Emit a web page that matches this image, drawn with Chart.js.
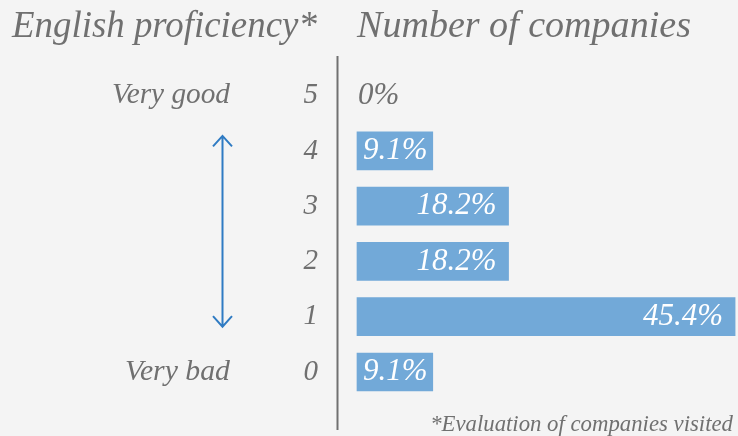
<!DOCTYPE html>
<html>
<head>
<meta charset="utf-8">
<script src="https://cdn.jsdelivr.net/npm/chart.js@4/dist/chart.umd.min.js"></script>
<style>
html,body{margin:0;padding:0;background:#f4f4f4;}
#wrap{position:relative;width:738px;height:436px;}
</style>
</head>
<body>
<div id="wrap"><canvas id="c" width="738" height="436"></canvas></div>
<script>
// ---- data ----
const levels = ['5', '4', '3', '2', '1', '0'];
const shares = [0, 9.1, 18.2, 18.2, 45.4, 9.1];
const shareLabels = shares.map(v => v + '%');
const leftTitle = 'English proficiency*';
const rightTitle = 'Number of companies';
const topLevelLabel = 'Very good';
const bottomLevelLabel = 'Very bad';
const footnote = '*Evaluation of companies visited';

// ---- style ----
const FAM = '"Liberation Serif", "Times New Roman", serif';
const GRAY = '#707070';
const BAR = '#72a9d8';
const ARROW = '#2f7bc3';
const BG = '#f4f4f4';

function fitSize(ctx, text, target, base) {
  ctx.font = `italic ${base}px ${FAM}`;
  const w = ctx.measureText(text).width;
  return base * target / w;
}

const decor = {
  id: 'decor',
  beforeDraw(chart) {
    const ctx = chart.ctx;
    ctx.save();
    ctx.fillStyle = BG;
    ctx.fillRect(0, 0, chart.width, chart.height);
    ctx.restore();
  },
  afterDatasetsDraw(chart) {
    const ctx = chart.ctx;
    const meta = chart.getDatasetMeta(0);
    ctx.save();
    const size = fitSize(ctx, '45.4%', 80, 27);
    ctx.font = `italic ${size}px ${FAM}`;
    ctx.textBaseline = 'middle';
    meta.data.forEach((bar, i) => {
      const txt = shareLabels[i];
      const w = ctx.measureText(txt).width;
      if (shares[i] === 0) {
        ctx.fillStyle = GRAY;
        ctx.textAlign = 'left';
        ctx.fillText(txt, bar.base + 1, bar.y);
      } else {
        ctx.fillStyle = '#ffffff';
        ctx.textAlign = 'right';
        const x = Math.max(bar.base + 6 + w, bar.x - 12);
        ctx.fillText(txt, x, bar.y);
      }
    });
    ctx.restore();
  },
  afterDraw(chart) {
    const ctx = chart.ctx;
    const y = chart.scales.y;
    ctx.save();
    // axis line
    ctx.strokeStyle = GRAY;
    ctx.lineWidth = 2;
    ctx.beginPath();
    ctx.moveTo(chart.chartArea.left + 0.5, 56);
    ctx.lineTo(chart.chartArea.left + 0.5, 430);
    ctx.stroke();

    // double arrow
    const ax = 222.5;
    const aTop = y.getPixelForValue(1) - 15;
    const aBot = y.getPixelForValue(4) + 10;
    ctx.strokeStyle = ARROW;
    ctx.lineWidth = 2;
    ctx.beginPath();
    ctx.moveTo(ax, aTop);
    ctx.lineTo(ax, aBot);
    ctx.moveTo(ax - 9.5, aTop + 10.5);
    ctx.lineTo(ax, aTop);
    ctx.lineTo(ax + 9.5, aTop + 10.5);
    ctx.moveTo(ax - 9.5, aBot - 10.5);
    ctx.lineTo(ax, aBot);
    ctx.lineTo(ax + 9.5, aBot - 10.5);
    ctx.stroke();

    // texts
    ctx.fillStyle = GRAY;
    ctx.textBaseline = 'alphabetic';
    let s = fitSize(ctx, leftTitle, 305, 32);
    ctx.font = `italic ${s}px ${FAM}`;
    ctx.textAlign = 'left';
    ctx.fillText(leftTitle, 12, 37);

    s = fitSize(ctx, rightTitle, 334, 32);
    ctx.font = `italic ${s}px ${FAM}`;
    ctx.fillText(rightTitle, 357, 37);

    ctx.textBaseline = 'middle';
    ctx.textAlign = 'right';
    s = fitSize(ctx, topLevelLabel, 118, 27);
    ctx.font = `italic ${s}px ${FAM}`;
    ctx.fillText(topLevelLabel, 230, y.getPixelForValue(0));
    s = fitSize(ctx, bottomLevelLabel, 105, 27);
    ctx.font = `italic ${s}px ${FAM}`;
    ctx.fillText(bottomLevelLabel, 230, y.getPixelForValue(5));

    ctx.textBaseline = 'alphabetic';
    s = fitSize(ctx, footnote, 303, 22);
    ctx.font = `italic ${s}px ${FAM}`;
    ctx.fillText(footnote, 733, 431);
    ctx.restore();
  }
};

new Chart(document.getElementById('c').getContext('2d'), {
  type: 'bar',
  data: {
    labels: levels,
    datasets: [{
      data: shares,
      backgroundColor: shares.map(v => v === 0 ? 'rgba(0,0,0,0)' : BAR),
      borderWidth: 0,
      barThickness: 38
    }]
  },
  options: {
    indexAxis: 'y',
    responsive: false,
    animation: false,
    events: [],
    layout: { padding: { top: 68, bottom: 33, left: 0, right: 0 } },
    plugins: { legend: { display: false }, tooltip: { enabled: false } },
    scales: {
      x: { display: false, min: -2.4, max: 45.75 },
      y: {
        grid: { display: false, drawTicks: false },
        border: { display: false },
        ticks: {
          color: GRAY,
          padding: 19,
          font: { family: FAM, style: 'italic', size: 29 }
        },
        afterFit(scale) { scale.width = 337; }
      }
    }
  },
  plugins: [decor]
});
</script>
</body>
</html>
